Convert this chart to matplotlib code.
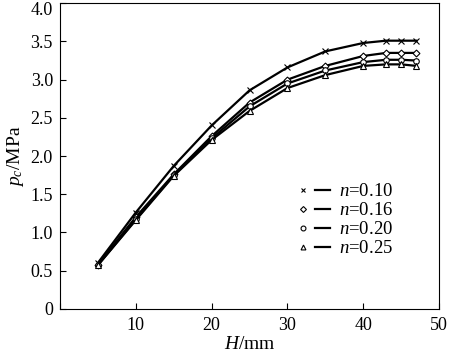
import matplotlib
matplotlib.use("Agg")
import matplotlib.pyplot as plt
from matplotlib.lines import Line2D
from matplotlib.legend_handler import HandlerTuple
from matplotlib.transforms import ScaledTranslation

H = [5, 10, 15, 20, 25, 30, 35, 40, 43, 45, 47]
p_010 = [0.60, 1.26, 1.87, 2.40, 2.86, 3.16, 3.37, 3.48, 3.51, 3.51, 3.51]
p_016 = [0.58, 1.20, 1.76, 2.26, 2.70, 3.00, 3.18, 3.31, 3.35, 3.35, 3.35]
p_020 = [0.57, 1.17, 1.75, 2.23, 2.65, 2.95, 3.12, 3.23, 3.26, 3.26, 3.25]
p_025 = [0.57, 1.16, 1.74, 2.21, 2.59, 2.89, 3.06, 3.18, 3.20, 3.20, 3.18]
labels = ["0.10", "0.16", "0.20", "0.25"]
markers = ["x", "D", "o", "^"]
msizes = [4, 3.5, 4, 4]

plt.rcParams['font.family'] = ['Liberation Serif', 'DejaVu Serif']
plt.rcParams['mathtext.fontset'] = 'custom'
plt.rcParams['mathtext.rm'] = 'Liberation Serif'
plt.rcParams['mathtext.it'] = 'Liberation Serif:italic'

fig = plt.figure(figsize=(4.5, 3.6), dpi=100)
ax = fig.add_axes([0.133, 0.142, 0.843, 0.849])

series = [p_010, p_016, p_020, p_025]
handles = []
for ys, m, ms, lab in zip(series, markers, msizes, labels):
    ax.plot(H, ys, color='black', lw=1.6, marker=m, ms=ms,
            mfc='white', mec='black', mew=0.8)
    hm = Line2D([], [], ls='none', marker=m, ms=ms - 0.5, mfc='white', mec='black', mew=0.8)
    hl = Line2D([], [], color='black', lw=1.6)
    handles.append((hm, hl))

ax.legend(handles, [r'$n$=' + l for l in labels],
          handler_map={tuple: HandlerTuple(ndivide=2, pad=0.2)},
          loc='center', bbox_to_anchor=(0.75, 0.29), frameon=False,
          fontsize=13.5, handlelength=1.85, labelspacing=0.1, handletextpad=0.45)

ax.set_xlim(0, 50)
ax.set_ylim(0, 4.0)
ax.set_xticks([0, 10, 20, 30, 40, 50])
ax.set_xticklabels(['', '10', '20', '30', '40', '50'])
ax.set_yticks([0, 0.5, 1.0, 1.5, 2.0, 2.5, 3.0, 3.5, 4.0])
ax.set_yticklabels(['0', '0.5', '1.0', '1.5', '2.0', '2.5', '3.0', '3.5', '4.0'])
ax.tick_params(direction='in', length=4, width=0.8, labelsize=13, colors='black')
ax.tick_params(axis='x', pad=6)
ax.tick_params(axis='y', pad=5)
for s in ax.spines.values():
    s.set_linewidth(0.8)

top = ax.get_yticklabels()[-1]
top.set_transform(top.get_transform() + ScaledTranslation(0, -3.5 / 72, fig.dpi_scale_trans))

ax.set_xlabel(r'$H$/mm', fontsize=14, labelpad=1)
ax.set_ylabel(r'$p_c$/MPa', fontsize=14, labelpad=3)

fig.savefig('out.png', dpi=100)
